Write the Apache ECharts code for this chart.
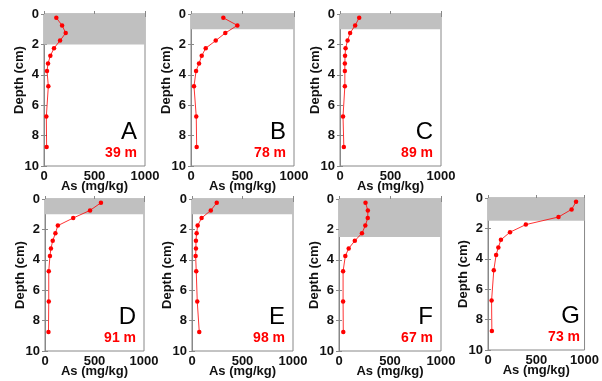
<!DOCTYPE html>
<html>
<head>
<meta charset="utf-8">
<script src="https://cdn.jsdelivr.net/npm/echarts@6/dist/echarts.min.js"></script>
<style>
    html, body { margin: 0; padding: 0; background: #fff; }
    #chart { width: 602px; height: 381px; }
</style>
</head>
<body>
<div id="chart"></div>
<script>
// sampling depths (cm), same for every core
const depths = [0.25, 0.75, 1.25, 1.75, 2.25, 2.75, 3.25, 3.75, 4.75, 6.75, 8.75];

const panelNames = ["A", "B", "C", "D", "E", "F", "G"];
const waterDepths = ["39 m", "78 m", "89 m", "91 m", "98 m", "67 m", "73 m"];
// depth of the grey surface layer (cm)
const shadeDepth = [2, 1, 1, 1, 1, 2.5, 1.5];

// As (mg/kg)
const asA = [122, 179, 215, 159, 99, 63, 40, 30, 43, 23, 26];
const asB = [314, 450, 333, 240, 143, 104, 78, 49, 29, 51, 55];
const asC = [190, 150, 100, 75, 55, 50, 48, 48, 48, 30, 38];
const asD = [565, 455, 285, 130, 105, 78, 60, 50, 38, 38, 35];
const asE = [245, 186, 95, 56, 46, 39, 39, 36, 42, 52, 72];
const asF = [260, 283, 282, 258, 225, 155, 95, 62, 40, 40, 42];
const asG = [912, 866, 730, 392, 228, 134, 107, 84, 60, 37, 40];
const asValues = [asA, asB, asC, asD, asE, asF, asG];

const xTicks = [0, 500, 1000];
const yTicks = [0, 2, 4, 6, 8, 10];

// plot boxes (px)
const boxes = [
    { left: 44, top: 14, width: 101, height: 152 },
    { left: 191, top: 14, width: 103, height: 152 },
    { left: 340, top: 14, width: 101, height: 152 },
    { left: 45, top: 199, width: 99, height: 152 },
    { left: 192, top: 199, width: 101, height: 152 },
    { left: 339, top: 199, width: 102, height: 152 },
    { left: 488, top: 198, width: 100, height: 152 },
];

const font = "'Liberation Sans', Arial, sans-serif";
const frameColor = "#888";
const red = "#ff0000";

const grid = [];
const xAxis = [];
const yAxis = [];
const series = [];
const graphic = [];

boxes.forEach((b, i) => {
    grid.push({
        left: b.left, top: b.top, width: b.width, height: b.height,
        show: true, borderColor: frameColor, borderWidth: 1, backgroundColor: "transparent",
    });
    const xBase = {
        gridIndex: i, type: "value",
        min: xTicks[0], max: xTicks[xTicks.length - 1], interval: xTicks[1] - xTicks[0],
        splitLine: { show: false },
        axisLine: { show: true, lineStyle: { color: frameColor } },
        axisTick: { show: true, inside: true, length: 3, lineStyle: { color: frameColor } },
    };
    xAxis.push(Object.assign({}, xBase, {
        position: "bottom",
        name: "As (mg/kg)", nameLocation: "middle", nameGap: 14, nameMoveOverlap: false,
        nameTextStyle: { fontFamily: font, fontWeight: "bold", fontSize: 13, color: "#111" },
        axisLabel: {
            fontFamily: font, fontWeight: "bold", fontSize: 13, color: "#111", margin: 4,
            formatter: (v) => String(v),
        },
    }));
    const yBase = {
        gridIndex: i, type: "value", inverse: true,
        min: yTicks[0], max: yTicks[yTicks.length - 1], interval: yTicks[1] - yTicks[0],
        splitLine: { show: false },
        axisLine: { show: true, lineStyle: { color: frameColor } },
        axisTick: { show: true, inside: true, length: 3, lineStyle: { color: frameColor } },
    };
    yAxis.push(Object.assign({}, yBase, {
        position: "left",
        name: "Depth (cm)", nameLocation: "middle", nameGap: 18, nameRotate: 90, nameMoveOverlap: false,
        nameTextStyle: {
            fontFamily: font, fontWeight: "bold", fontSize: 13, color: "#111",
            // top row labels sit a bit higher in the original
            padding: b.top < 100 ? [0, 0, 0, 20] : 0,
        },
        axisLabel: { fontFamily: font, fontWeight: "bold", fontSize: 13, color: "#111", margin: 5 },
    }));

    series.push({
        type: "line",
        xAxisIndex: i, yAxisIndex: i,
        data: asValues[i].map((v, k) => [v, depths[k]]),
        symbol: "circle", symbolSize: 4.5,
        itemStyle: { color: red },
        lineStyle: { color: red, width: 1, opacity: 0.8 },
        animation: false,
        z: 3,
        markArea: {
            silent: true,
            itemStyle: { color: "#c0c0c0" },
            data: [[{ yAxis: 0 }, { yAxis: shadeDepth[i] }]],
        },
    });

    const right = b.left + b.width - 8;
    const bottom = b.top + b.height;
    graphic.push({
        type: "text", x: right, y: bottom - 34,
        style: { text: panelNames[i], fill: "#000", font: `24px ${font}`, align: "right", verticalAlign: "middle" },
        z: 10,
    });
    graphic.push({
        type: "text", x: right, y: bottom - 13,
        style: { text: waterDepths[i], fill: red, font: `bold 14px ${font}`, align: "right", verticalAlign: "middle" },
        z: 10,
    });
});

// mirrored inward ticks on top and right edges
boxes.forEach((b, i) => {
    xAxis.push({
        gridIndex: i, type: "value", position: "top",
        min: xTicks[0], max: xTicks[xTicks.length - 1], interval: xTicks[1] - xTicks[0],
        splitLine: { show: false }, axisLabel: { show: false },
        axisLine: { show: false },
        axisTick: { show: true, inside: true, length: 3, lineStyle: { color: frameColor } },
    });
    yAxis.push({
        gridIndex: i, type: "value", position: "right", inverse: true,
        min: yTicks[0], max: yTicks[yTicks.length - 1], interval: yTicks[1] - yTicks[0],
        splitLine: { show: false }, axisLabel: { show: false },
        axisLine: { show: false },
        axisTick: { show: true, inside: true, length: 3, lineStyle: { color: frameColor } },
    });
});

const chart = echarts.init(document.getElementById("chart"), null, { renderer: "canvas" });
chart.setOption({
    backgroundColor: "#fff",
    animation: false,
    grid, xAxis, yAxis, series, graphic,
});
</script>
</body>
</html>
